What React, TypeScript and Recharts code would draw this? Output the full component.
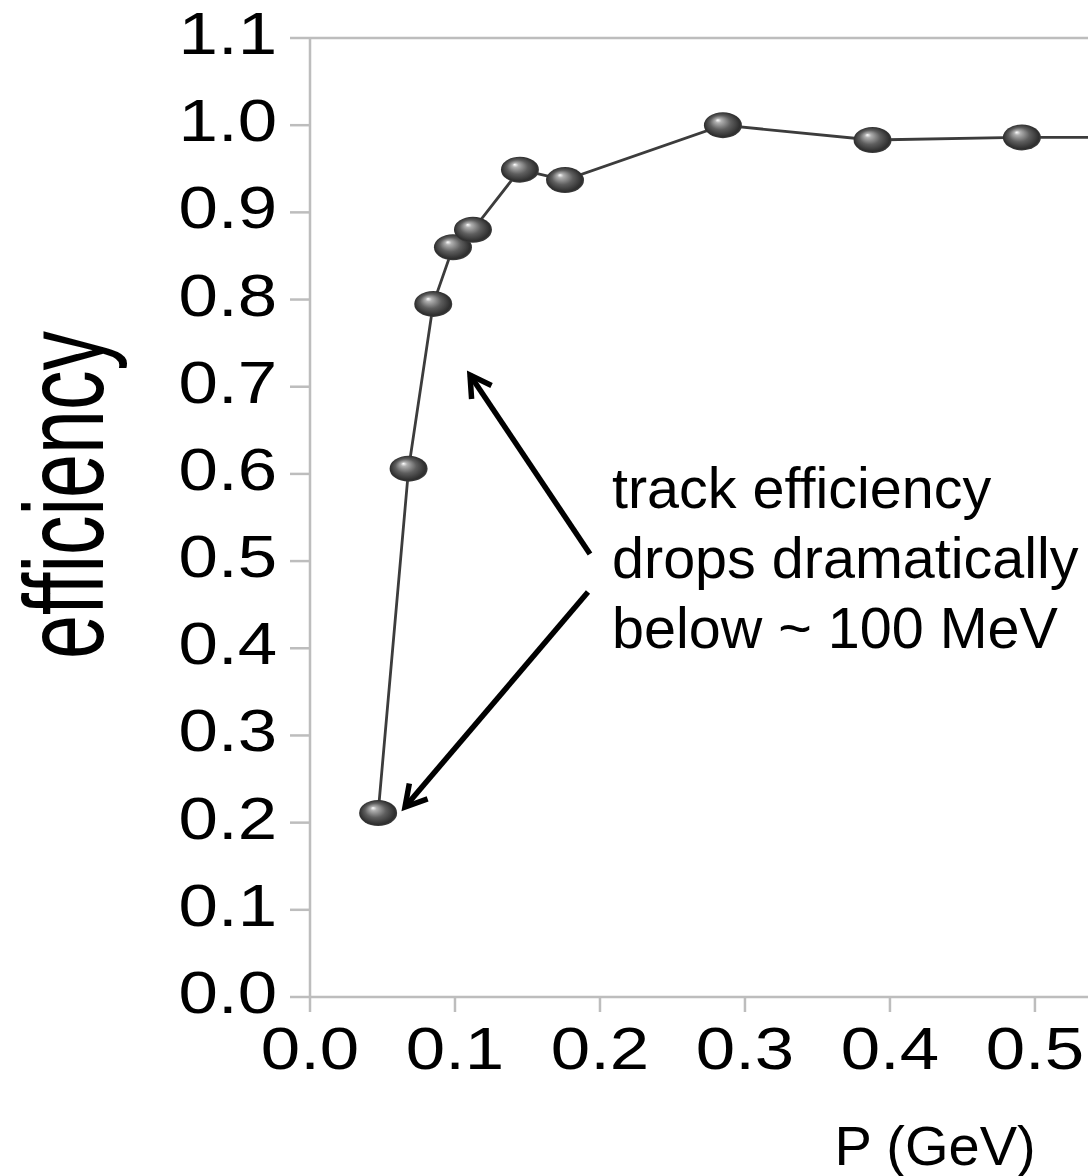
import React from "react"
import { LineChart, Line, XAxis, YAxis, ReferenceLine } from "recharts"

// momentum (GeV) and track efficiency
const momentum = [0.047, 0.068, 0.085, 0.0986, 0.1124, 0.1448, 0.1759, 0.2848, 0.388, 0.491, 0.6]
const efficiency = [0.211, 0.606, 0.795, 0.86, 0.88, 0.949, 0.937, 1.0, 0.983, 0.986, 0.986]

const xTicks = [0, 0.1, 0.2, 0.3, 0.4, 0.5]
const yTicks = [0, 0.1, 0.2, 0.3, 0.4, 0.5, 0.6, 0.7, 0.8, 0.9, 1.0, 1.1]

const noteLines = ["track efficiency", "drops dramatically", "below ~ 100 MeV"]

const data = momentum.map((p, i) => ({ p, eff: efficiency[i] }))

const FONT = '"Liberation Sans", Arial, sans-serif'
const AXIS_GRAY = "#bdbdbd"

function YTick(props: any) {
  const { x, y, payload } = props
  return (
    <g transform={`translate(${x},${y})`}>
      <text transform="scale(1.2,1)" textAnchor="end" dy={16} fontSize={59} fontFamily={FONT} fill="#000">
        {Number(payload.value).toFixed(1)}
      </text>
    </g>
  )
}

function XTick(props: any) {
  const { x, y, payload } = props
  return (
    <g transform={`translate(${x},${y})`}>
      <text transform="scale(1.2,1)" textAnchor="middle" dy={55} fontSize={59} fontFamily={FONT} fill="#000">
        {Number(payload.value).toFixed(1)}
      </text>
    </g>
  )
}

function SphereDot(props: any) {
  const { cx, cy, index } = props
  if (cx == null || cy == null) return <g key={index} />
  return <ellipse key={index} cx={cx} cy={cy} rx={19} ry={13} fill="url(#sphere)" />
}

function Arrow({ x1, y1, x2, y2 }: { x1: number; y1: number; x2: number; y2: number }) {
  // arrow pointing at (x2, y2) with an open V head
  const ang = Math.atan2(y2 - y1, x2 - x1)
  const len = 24
  const spread = Math.PI / 6
  const ax = x2 - len * Math.cos(ang - spread)
  const ay = y2 - len * Math.sin(ang - spread)
  const bx = x2 - len * Math.cos(ang + spread)
  const by = y2 - len * Math.sin(ang + spread)
  return (
    <g stroke="#000" strokeWidth={5.5} fill="none" strokeLinecap="butt">
      <line x1={x1} y1={y1} x2={x2} y2={y2} />
      <polyline points={`${ax},${ay} ${x2},${y2} ${bx},${by}`} strokeLinejoin="miter" />
    </g>
  )
}

export default function App() {
  return (
    <div style={{ position: "absolute", left: 0, top: 0, width: 1088, height: 1176, background: "#fff" }}>
      <svg width={0} height={0} style={{ position: "absolute" }}>
        <defs>
          <radialGradient id="sphere" cx="0.5" cy="0.5" r="0.55" fx="0.36" fy="0.3">
            <stop offset="0" stopColor="#ffffff" />
            <stop offset="0.15" stopColor="#b0b0b0" />
            <stop offset="0.5" stopColor="#5e5e5e" />
            <stop offset="0.85" stopColor="#2e2e2e" />
            <stop offset="1" stopColor="#4a4a4a" />
          </radialGradient>
        </defs>
      </svg>
      <LineChart width={1088} height={1176} data={data} margin={{ top: 38, right: 0, left: 110, bottom: 119 }}>
        <XAxis
          type="number"
          dataKey="p"
          domain={[0, 0.5366]}
          ticks={xTicks}
          interval={0}
          allowDataOverflow
          height={60}
          tickSize={15}
          tickMargin={2}
          tick={<XTick />}
          axisLine={{ stroke: AXIS_GRAY, strokeWidth: 2.5 }}
          tickLine={{ stroke: AXIS_GRAY, strokeWidth: 2.5 }}
          label={{
            content: () => (
              <text x={935} y={1165} textAnchor="middle" fontSize={56} fontFamily={FONT} fill="#000">
                P (GeV)
              </text>
            ),
          }}
        />
        <YAxis
          type="number"
          domain={[0, 1.1]}
          ticks={yTicks}
          interval={0}
          width={200}
          tickSize={20}
          tickMargin={13}
          tick={<YTick />}
          axisLine={{ stroke: AXIS_GRAY, strokeWidth: 2.5 }}
          tickLine={{ stroke: AXIS_GRAY, strokeWidth: 2.5 }}
          label={{
            content: () => (
              <text
                transform="translate(103,495) scale(1.43,1) rotate(-90)"
                textAnchor="middle"
                fontSize={79}
                fontFamily={FONT}
                fill="#000"
              >
                efficiency
              </text>
            ),
          }}
        />
        <ReferenceLine y={1.1} stroke={AXIS_GRAY} strokeWidth={2.5} />
        <Line
          type="linear"
          dataKey="eff"
          stroke="#3c3c3c"
          strokeWidth={2.8}
          dot={<SphereDot />}
          activeDot={false}
          isAnimationActive={false}
        />
      </LineChart>
      <svg width={1088} height={1176} style={{ position: "absolute", left: 0, top: 0, pointerEvents: "none" }}>
        <Arrow x1={590} y1={554} x2={470} y2={375} />
        <Arrow x1={588} y1={592} x2={405} y2={807} />
        {noteLines.map((t, i) => (
          <text key={t} x={612} y={508 + i * 70} fontSize={57.5} fontFamily={FONT} fill="#000">
            {t}
          </text>
        ))}
      </svg>
    </div>
  )
}
